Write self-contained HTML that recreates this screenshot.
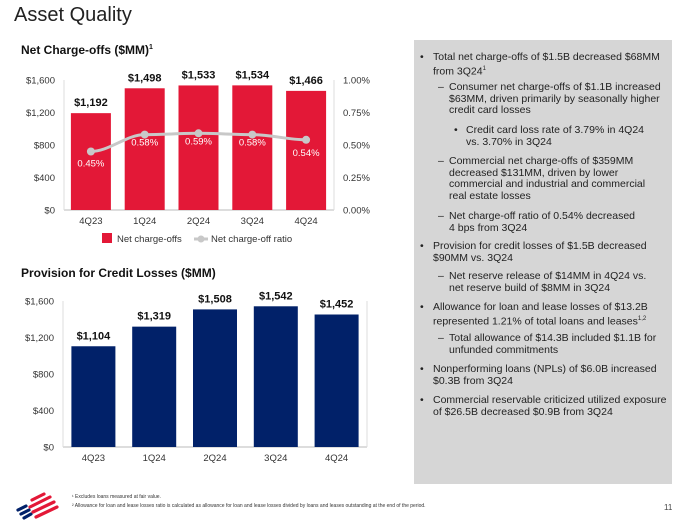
<!DOCTYPE html>
<html><head><meta charset="utf-8"><style>
body{margin:0;width:682px;height:525px;background:#fff;font-family:"Liberation Sans",sans-serif;overflow:hidden;position:relative}
.abs{position:absolute}
#panel{left:414px;top:40px;width:258px;height:444px;background:#d6d6d6}
.p{position:absolute;font-size:10.5px;line-height:11.7px;color:#222;white-space:nowrap}
</style></head><body>
<div class="abs" style="left:14px;top:4px;font-size:20px;color:#222">Asset Quality</div>
<div class="abs" style="left:21px;top:43px;font-size:12px;font-weight:bold;color:#111">Net Charge-offs ($MM)<sup style="font-size:7px">1</sup></div>
<div class="abs" style="left:21px;top:266px;font-size:12px;font-weight:bold;color:#111">Provision for Credit Losses ($MM)</div>
<svg class="abs" style="left:0;top:0" width="410" height="480">
<g id="c1"></g>
<g id="c2"></g>
</svg>
<div id="panel" class="abs">
<div class="p" style="left:6px;top:12px">•</div><div class="p" style="left:19px;top:12px">Total net charge-offs of $1.5B decreased $68MM<br>from 3Q24<sup style="font-size:6px">1</sup></div>
<div class="p" style="left:24px;top:42px">–</div><div class="p" style="left:35px;top:42px">Consumer net charge-offs of $1.1B increased<br>$63MM, driven primarily by seasonally higher<br>credit card losses</div>
<div class="p" style="left:40px;top:85px">•</div><div class="p" style="left:52px;top:85px">Credit card loss rate of 3.79% in 4Q24<br>vs. 3.70% in 3Q24</div>
<div class="p" style="left:24px;top:116px">–</div><div class="p" style="left:35px;top:116px">Commercial net charge-offs of $359MM<br>decreased $131MM, driven by lower<br>commercial and industrial and commercial<br>real estate losses</div>
<div class="p" style="left:24px;top:171px">–</div><div class="p" style="left:35px;top:171px">Net charge-off ratio of 0.54% decreased<br>4 bps from 3Q24</div>
<div class="p" style="left:6px;top:201px">•</div><div class="p" style="left:19px;top:201px">Provision for credit losses of $1.5B decreased<br>$90MM vs. 3Q24</div>
<div class="p" style="left:24px;top:231px">–</div><div class="p" style="left:35px;top:231px">Net reserve release of $14MM in 4Q24 vs.<br>net reserve build of $8MM in 3Q24</div>
<div class="p" style="left:6px;top:262px">•</div><div class="p" style="left:19px;top:262px">Allowance for loan and lease losses of $13.2B<br>represented 1.21% of total loans and leases<sup style="font-size:6px">1,2</sup></div>
<div class="p" style="left:24px;top:293px">–</div><div class="p" style="left:35px;top:293px">Total allowance of $14.3B included $1.1B for<br>unfunded commitments</div>
<div class="p" style="left:6px;top:324px">•</div><div class="p" style="left:19px;top:324px">Nonperforming loans (NPLs) of $6.0B increased<br>$0.3B from 3Q24</div>
<div class="p" style="left:6px;top:355px">•</div><div class="p" style="left:19px;top:355px">Commercial reservable criticized utilized exposure<br>of $26.5B decreased $0.9B from 3Q24</div>
</div>
<div class="abs" style="left:72px;top:494px;font-size:5px;color:#333">¹ Excludes loans measured at fair value.</div>
<div class="abs" style="left:72px;top:503px;font-size:5px;color:#333">² Allowance for loan and lease losses ratio is calculated as allowance for loan and lease losses divided by loans and leases outstanding at the end of the period.</div>
<svg class="abs" style="left:14px;top:490px" width="50" height="30">
<g stroke-width="3.2" stroke-linecap="round">
<line x1="4" y1="20" x2="12" y2="16" stroke="#012169"/><line x1="7" y1="24" x2="15" y2="20" stroke="#012169"/><line x1="10" y1="28" x2="17" y2="24" stroke="#012169"/>
<line x1="18" y1="10" x2="30" y2="4" stroke="#e31837"/><line x1="16" y1="17" x2="36" y2="7" stroke="#e31837"/><line x1="19" y1="22" x2="40" y2="12" stroke="#e31837"/><line x1="22" y1="27" x2="43" y2="17" stroke="#e31837"/>
</g></svg>
<div class="abs" style="left:664px;top:503px;font-size:8px;color:#444">11</div>
<script>
const cats=["4Q23","1Q24","2Q24","3Q24","4Q24"];
const ncoValues=[1192,1498,1533,1534,1466];
const ncoLabels=["$1,192","$1,498","$1,533","$1,534","$1,466"];
const ratioValues=[0.45,0.58,0.59,0.58,0.54];
const ratioLabels=["0.45%","0.58%","0.59%","0.58%","0.54%"];
const provValues=[1104,1319,1508,1542,1452];
const provLabels=["$1,104","$1,319","$1,508","$1,542","$1,452"];
const leftTicks=[0,400,800,1200,1600];
const leftTickLabels=["$0","$400","$800","$1,200","$1,600"];
const rightTicks=[0,0.25,0.5,0.75,1];
const rightTickLabels=["0.00%","0.25%","0.50%","0.75%","1.00%"];
const NS="http://www.w3.org/2000/svg";
function mk(p,t,a,txt){const e=document.createElementNS(NS,t);for(const k in a)e.setAttribute(k,a[k]);if(txt!=null)e.textContent=txt;p.appendChild(e);return e;}
function chart(g,o){
  const y=v=>o.y0-(v/1600)*(o.y0-o.y1);
  const x=i=>o.x0+o.step*(i+0.5);
  mk(g,"line",{x1:o.ax0,x2:o.ax1,y1:o.y0,y2:o.y0,stroke:"#bbb","stroke-width":1});
  mk(g,"line",{x1:o.ax0,x2:o.ax0,y1:o.y0,y2:o.y1,stroke:"#ddd","stroke-width":1});
  mk(g,"line",{x1:o.ax1,x2:o.ax1,y1:o.y0,y2:o.y1,stroke:"#ddd","stroke-width":1});
  leftTicks.forEach((t,i)=>{const e=mk(g,"text",{x:o.ax0-9,y:y(t)+3.5,"text-anchor":"end","font-size":9.5,fill:"#333"},leftTickLabels[i]);});
  o.vals.forEach((v,i)=>{
    const r=mk(g,"rect",{x:x(i)-o.bw/2,y:y(v),width:o.bw,height:o.y0-y(v),fill:o.color});
    
    
    const l=mk(g,"text",{x:x(i),y:y(v)-7,"text-anchor":"middle","font-size":11,"font-weight":"bold",fill:"#111"},o.labels[i]);
    
    
    const c=mk(g,"text",{x:x(i),y:o.y0+14,"text-anchor":"middle","font-size":9.5,fill:"#333"},cats[i]);
    
    
  });
  return {x,y};
}
const c1=document.getElementById("c1");
const a1=chart(c1,{x0:64,step:53.8,bw:40,y0:210,y1:80,ax0:64,ax1:334,vals:ncoValues,labels:ncoLabels,color:"#e31837"});
const ry=v=>210-v*130;
rightTicks.forEach((t,i)=>{const e=mk(c1,"text",{x:343,y:ry(t)+3.5,"font-size":9.5,fill:"#333"},rightTickLabels[i]);});
let d="";ratioValues.forEach((v,i)=>{const px=a1.x(i),py=ry(v);if(i==0)d="M"+px+","+py;else{const qx=a1.x(i-1),qy=ry(ratioValues[i-1]);d+=` C${qx+18},${qy} ${px-18},${py} ${px},${py}`;}});
const ln=mk(c1,"path",{d:d,fill:"none",stroke:"#c8c8c8","stroke-width":3});


ratioValues.forEach((v,i)=>{
  const p=mk(c1,"circle",{cx:a1.x(i),cy:ry(v),r:4,fill:"#c8c8c8"});
  
  
  const t=mk(c1,"text",{x:a1.x(i),y:ry(v)+(i==0?15:i==4?16:11),"text-anchor":"middle","font-size":9.5,fill:"#fff"},ratioLabels[i]);
  
  
});
const lg=mk(c1,"g",{});


mk(lg,"rect",{x:102,y:233,width:10,height:10,fill:"#e31837"});
mk(lg,"text",{x:117,y:242,"font-size":9.5,fill:"#333"},"Net charge-offs");
mk(lg,"line",{x1:194,x2:208,y1:239,y2:239,stroke:"#c8c8c8","stroke-width":3});
mk(lg,"circle",{cx:201,cy:239,r:3.5,fill:"#c8c8c8"});
mk(lg,"text",{x:211,y:242,"font-size":9.5,fill:"#333"},"Net charge-off ratio");
chart(document.getElementById("c2"),{x0:63,step:60.8,bw:44,y0:447,y1:301,ax0:63,ax1:367,vals:provValues,labels:provLabels,color:"#012169"});
</script>
</body></html>
